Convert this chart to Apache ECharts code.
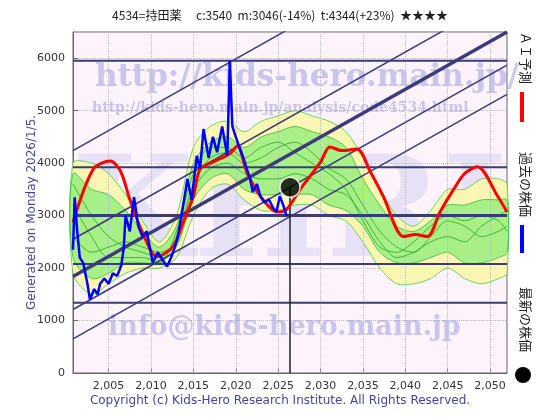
<!DOCTYPE html>
<html>
<head>
<meta charset="UTF-8"/>
<title>4534</title>
<script src="https://cdn.jsdelivr.net/npm/echarts@6/dist/echarts.min.js"></script>
<style>body{margin:0;background:#fff}</style>
</head>
<body>
<div id="main" style="width:560px;height:420px;"></div>
<script type="text/javascript">
// AI予測 (red)
var predYears = [2000.8,2003.2,2005.2,2006.4,2007.5,2009,2010.7,2012.6,2013.8,2015,2015.8,2017.3,2019.3,2020.2,2021.3,2022.9,2024.9,2026,2027.6,2030,2031.1,2032.5,2034.3,2035.9,2037.4,2039.8,2041.2,2042.6,2044.1,2045.7,2047,2048.5,2050.9,2052];
var predValues = [2870,3890,4040,3850,3310,2680,2220,2410,2870,3370,3890,4020,4180,4330,3830,3370,3070,3120,3500,4020,4310,4240,4270,3830,3370,2600,2640,2600,3070,3500,3800,3930,3370,3070];
// 過去の株価 (blue)
var pastYears = [2000.8,2001.0,2001.3,2001.6,2002,2002.5,2002.8,2003.3,2003.7,2004,2004.5,2005,2005.5,2006,2006.5,2006.8,2007,2007.5,2008,2008.5,2009,2009.5,2010.2,2010.8,2011.4,2011.9,2012.5,2013.1,2013.6,2014.3,2014.8,2015.4,2015.8,2016.2,2016.8,2017.3,2017.8,2018.4,2019.0,2019.3,2019.6,2020.0,2020.5,2020.9,2021.3,2021.7,2022.0,2022.5,2022.9,2023.4,2023.9,2024.4,2024.8,2025.2,2025.6,2026.0];
var pastValues = [2350,3350,2700,2200,2100,1700,1400,1600,1500,1700,1800,1700,1900,1850,2050,2400,3000,2700,3350,2800,2600,2700,2100,2300,2150,2030,2250,2550,3000,3700,3300,4140,3900,4650,4100,4500,4210,4700,4140,5950,4700,4500,4270,4100,3890,3700,3450,3600,3370,3250,3310,3150,3070,3370,3200,2990];
var latest = [2026.4, 3540];
// 予測帯
var bandYears = [2000.8,2003,2005,2007,2009,2011,2013,2015,2017,2019,2021,2023,2025,2027,2029,2031,2033,2035,2037,2039,2041,2043,2045,2047,2049,2051,2052];
var yellowLow = [1900,1500,1700,1900,2000,2000,2200,3000,3500,3600,3300,3100,3100,3200,3200,3000,2900,2500,2000,1700,1700,1800,2000,1800,1700,1800,1900];
var yellowHigh = [4000,4000,3800,3400,2900,2500,3000,4300,4700,4800,4600,4800,4900,5000,4900,4800,4600,4100,3500,3000,2800,3100,3500,3500,3700,3700,3600];
var greenLow = [2200,1800,1900,2100,2100,2100,2400,3300,3700,3800,3500,3400,3400,3400,3400,3200,3100,2800,2300,2100,2100,2200,2300,2100,2100,2200,2300];
var greenHigh = [3800,3500,3400,3100,2700,2400,2800,4000,4400,4500,4300,4500,4600,4700,4600,4500,4300,3700,3200,2800,2700,2900,3200,3200,3300,3300,3300];
var greenLine1 = [3600,3000,2600,2400,2300,2200,2600,3600,4100,4200,4000,4100,4300,4400,4200,3900,3700,3200,2700,2400,2300,2600,2900,2800,2600,2700,2800];
var greenLine2 = [2600,2300,2400,2500,2400,2300,2500,3500,3900,4000,3800,3700,3700,3800,3700,3500,3400,3000,2500,2200,2300,2500,2600,2500,2800,3000,3100];
var greenLine3 = [3200,2600,2200,2200,2200,2100,2700,3800,4300,4300,4100,4300,4400,4200,4000,3800,3500,2900,2400,2300,2500,2800,3000,2900,3000,2900,2700];
// 水平線 / 斜線
var hLines = [5950, 3920, 3000, 2080, 1340];
var diagOffsets = [4240, 2550, 1840, 1210, 650];
var diagSlope = 91;
var xTicks = [2005,2010,2015,2020,2025,2030,2035,2040,2045,2050];

var X0 = 2000.8, X1 = 2052;
function pairs(xs, ys) { return xs.map(function (x, i) { return [x, ys[i]]; }); }

function bandSeries(low, high, fill, stroke, z) {
    return {
        type:'custom', z:z, silent:true,
        data:[0],
        renderItem:function (params, api) {
            var pts = [];
            bandYears.forEach(function (x, i) { pts.push(api.coord([x, high[i]])); });
            for (var i = bandYears.length - 1; i >= 0; i--) pts.push(api.coord([bandYears[i], low[i]]));
            return {type:'polygon', shape:{points:pts, smooth:0.3}, style:{fill:fill, stroke:stroke, lineWidth:0.8}};
        }
    };
}

// watermark drawn as a low custom layer so it stays under the chart marks
var wmFont = 'bold {s}px "DejaVu Serif"';
var watermarks = [
    {text:'KHRI', x:72, y:150, size:140, fill:'rgba(190,190,235,0.35)'},
    {text:'http://kids-hero.main.jp/', x:95, y:62, size:31, fill:'rgba(150,150,220,0.5)'},
    {text:'http://kids-hero.main.jp/analysis/code4534.html', x:92, y:101, size:14, fill:'rgba(150,150,220,0.5)'},
    {text:'info@kids-hero.main.jp', x:108, y:314, size:27, fill:'rgba(150,150,220,0.5)'}
];

var myChart = echarts.init(document.getElementById('main'));
var dark = '#3b3b7a';
var series = [];
series.push({type:'custom', z:1, silent:true, data:[0], clip:false,
    renderItem:function () {
        return {type:'group', children:watermarks.map(function (w) {
            return {type:'text', x:w.x, y:w.y, style:{text:w.text, fill:w.fill, font:wmFont.replace('{s}', w.size)}};
        })};
    }});
series.push(bandSeries(yellowLow, yellowHigh, '#fbf6b4', '#4c4', 3));
series.push(bandSeries(greenLow, greenHigh, 'rgba(160,238,130,0.9)', '#3b3', 4));
[greenLine1, greenLine2, greenLine3].forEach(function (g) {
    series.push({type:'line', data:pairs(bandYears, g), symbol:'none', lineStyle:{width:0.8,color:'#2a2'}, smooth:0.3, z:5});
});
hLines.forEach(function (v) {
    series.push({type:'line', data:[[X0, v],[X1, v]], symbol:'none', lineStyle:{width: v === 3000 ? 3 : 2, color:dark}, z:6});
});
diagOffsets.forEach(function (a) {
    series.push({type:'line', data:[[X0, a],[X1, a + diagSlope * (X1 - X0)]], symbol:'none', lineStyle:{width: a === 1840 ? 3.5 : 1.5, color:dark}, z:6});
});
series.push({type:'line', data:[[latest[0], 0],[latest[0], latest[1]]], symbol:'none', lineStyle:{width:1.5,color:'#222'}, z:7});
series.push({type:'line', name:'AI予測', data:pairs(predYears, predValues), symbol:'none', smooth:0.3, lineStyle:{width:3,color:'#f00'}, z:8});
series.push({type:'line', name:'過去の株価', data:pairs(pastYears, pastValues), symbol:'none', lineStyle:{width:2.5,color:'#00f'}, z:9});
series.push({type:'scatter', data:[latest], symbolSize:20, itemStyle:{color:'#000',borderColor:'#fff',borderWidth:1.5}, z:10});
series.push({type:'line', data:[], markLine:{silent:true, symbol:'none', label:{show:false},
    lineStyle:{color:'#bbb', type:'dotted', width:1}, data:xTicks.map(function (t) { return {xAxis:t}; })}, z:2});

option = {
    animation:false,
    backgroundColor:'#fff',
    grid:{left:73, right:53, top:32, bottom:47, backgroundColor:'#fcf4fa', show:true, borderColor:'#666', borderWidth:1},
    xAxis:{type:'value', min:X0, max:X1,
        axisLabel:{customValues:xTicks, color:'#333', fontSize:11, fontFamily:'DejaVu Sans'},
        axisTick:{customValues:xTicks, inside:true},
        splitLine:{show:false}, axisLine:{lineStyle:{color:'#666'}}},
    yAxis:{type:'value', min:0, max:6500, interval:1000,
        axisLabel:{color:'#333', fontSize:11, fontFamily:'DejaVu Sans', showMaxLabel:false, formatter:function (v) { return String(v); }},
        axisTick:{inside:true}, axisLine:{show:true, lineStyle:{color:'#666'}},
        splitLine:{lineStyle:{color:'#bbb', type:'dotted'}}},
    series: series,
    graphic:[
        {type:'text', left:'center', top:9, style:{text:'4534=持田薬　 c:3540  m:3046(-14%)  t:4344(+23%)  ★★★★', fontSize:12, fill:'#222', fontFamily:'Noto Sans CJK JP'}},
        {type:'text', left:'center', top:395, style:{text:'Copyright (c) Kids-Hero Research Institute. All Rights Reserved.', fontSize:12, fill:'#449', fontFamily:'DejaVu Sans'}},
        {type:'text', x:26, y:310, rotation:Math.PI/2, style:{text:'Generated on Monday 2026/1/5.', fontSize:12, fill:'#449', fontFamily:'DejaVu Sans'}},
        {type:'rect', shape:{x:508, y:0, width:52, height:395}, style:{fill:'#fff'}},
        {type:'text', x:532, y:32, rotation:-Math.PI/2, style:{text:'ＡＩ予測', fontSize:13, fill:'#222', fontFamily:'Noto Sans CJK JP'}},
        {type:'rect', shape:{x:520, y:92, width:4, height:30}, style:{fill:'#f00'}},
        {type:'text', x:532, y:152, rotation:-Math.PI/2, style:{text:'過去の株価', fontSize:13, fill:'#222', fontFamily:'Noto Sans CJK JP'}},
        {type:'rect', shape:{x:520, y:225, width:4, height:28}, style:{fill:'#00f'}},
        {type:'text', x:532, y:287, rotation:-Math.PI/2, style:{text:'最新の株価', fontSize:13, fill:'#222', fontFamily:'Noto Sans CJK JP'}},
        {type:'circle', shape:{cx:523, cy:375, r:8}, style:{fill:'#000'}}
    ]
};
myChart.setOption(option);
</script>
</body>
</html>
